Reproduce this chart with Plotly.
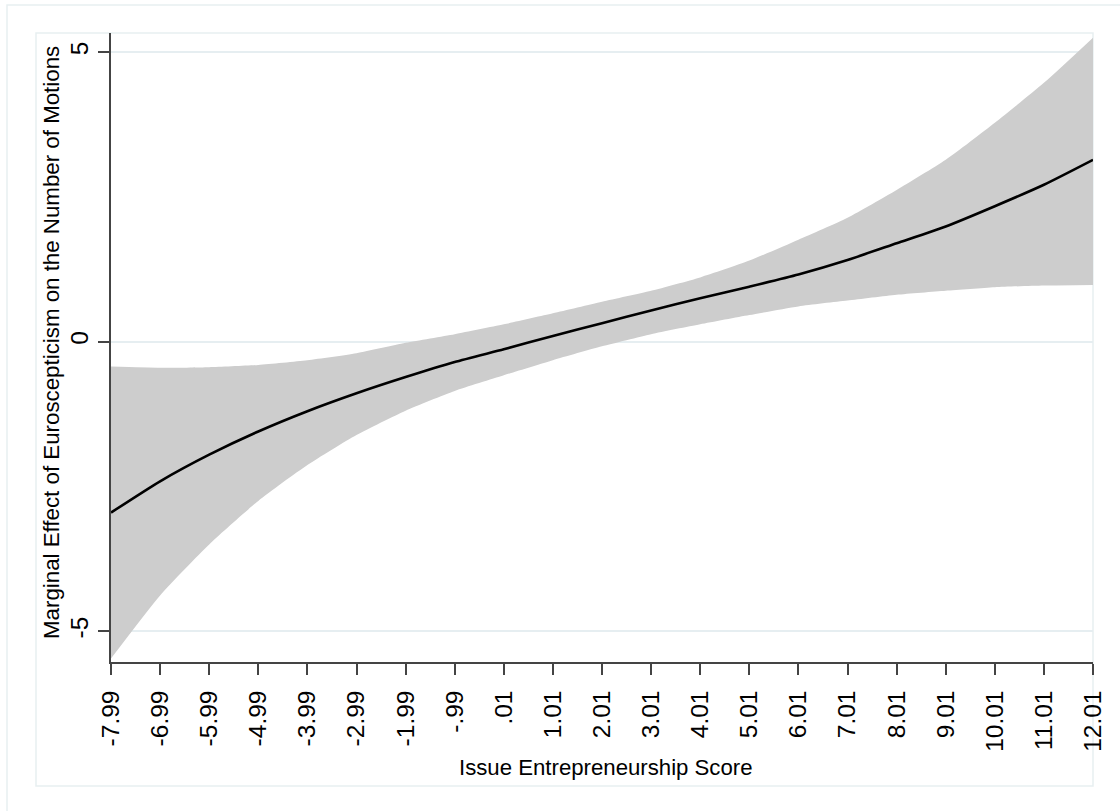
import plotly.graph_objects as go

# Data
x_vals = [-7.99, -6.99, -5.99, -4.99, -3.99, -2.99, -1.99, -0.99, 0.01, 1.01, 2.01,
          3.01, 4.01, 5.01, 6.01, 7.01, 8.01, 9.01, 10.01, 11.01, 12.01]
effect = [-2.95, -2.41, -1.95, -1.55, -1.20, -0.89, -0.61, -0.35, -0.13, 0.10, 0.32,
          0.54, 0.75, 0.95, 1.16, 1.41, 1.70, 1.99, 2.34, 2.71, 3.14]
upper = [-0.43, -0.45, -0.44, -0.40, -0.32, -0.20, -0.02, 0.13, 0.30, 0.49, 0.69,
         0.88, 1.11, 1.40, 1.76, 2.14, 2.62, 3.14, 3.78, 4.47, 5.25]
lower = [-5.47, -4.38, -3.50, -2.75, -2.13, -1.61, -1.19, -0.85, -0.58, -0.32, -0.08,
         0.13, 0.30, 0.46, 0.61, 0.71, 0.81, 0.88, 0.94, 0.97, 0.98]
x_ticktext = ["-7.99", "-6.99", "-5.99", "-4.99", "-3.99", "-2.99", "-1.99", "-.99", ".01",
              "1.01", "2.01", "3.01", "4.01", "5.01", "6.01", "7.01", "8.01", "9.01",
              "10.01", "11.01", "12.01"]
y_tickvals = [-5, 0, 5]
y_ticktext = ["-5", "0", "5"]
x_title = "Issue Entrepreneurship Score"
y_title = "Marginal Effect of Euroscepticism on the Number of Motions"

FONT = "Liberation Sans, Arial, sans-serif"
W, H = 1120, 811
L, R, T, B = 111, 27, 33, 149
pw, ph = W - L - R, H - T - B


def px(xp):
    return (xp - L) / pw


def py(yp):
    return (H - B - yp) / ph


fig = go.Figure()
fig.add_trace(go.Scatter(x=x_vals, y=upper, mode="lines", line=dict(width=0, shape="spline", smoothing=0.6),
                         showlegend=False, hoverinfo="skip"))
fig.add_trace(go.Scatter(x=x_vals, y=lower, mode="lines", line=dict(width=0, shape="spline", smoothing=0.6),
                         fill="tonexty", fillcolor="#cdcdcd", showlegend=False, hoverinfo="skip"))
fig.add_trace(go.Scatter(x=x_vals, y=effect, mode="lines",
                         line=dict(color="#000000", width=2.6, shape="spline", smoothing=0.6),
                         showlegend=False))

fig.update_layout(
    width=W, height=H,
    margin=dict(l=L, r=R, t=T, b=B, pad=0),
    paper_bgcolor="white", plot_bgcolor="white",
    font=dict(family=FONT, color="#000000"),
    xaxis=dict(
        range=[-7.99, 12.01], tickmode="array", tickvals=x_vals, ticktext=x_ticktext,
        tickangle=-90, tickfont=dict(size=24.5, family=FONT, color="#000000"),
        ticks="outside", ticklen=11, tickwidth=1.5, tickcolor="#444444",
        showline=True, linecolor="#444444", linewidth=1.5,
        showgrid=False, zeroline=False, ticklabelstandoff=6,
    ),
    yaxis=dict(
        range=[-5.53, 5.33], tickmode="array", tickvals=y_tickvals, ticktext=y_ticktext,
        tickangle=-90, tickfont=dict(size=24.5, family=FONT, color="#000000"),
        ticks="outside", ticklen=11, tickwidth=1.5, tickcolor="#444444",
        showline=True, linecolor="#444444", linewidth=1.5,
        showgrid=True, gridcolor="#e6eef1", gridwidth=1.5, zeroline=False,
        ticklabelstandoff=0,
    ),
    shapes=[
        # outer frame
        dict(type="rect", xref="paper", yref="paper",
             x0=px(7), x1=px(1135), y0=py(826), y1=py(5),
             line=dict(color="#e8eff1", width=1.5), fillcolor="rgba(0,0,0,0)", layer="below"),
        # inner plot-region frame
        dict(type="rect", xref="paper", yref="paper",
             x0=px(36), x1=px(1093), y0=py(786), y1=py(33),
             line=dict(color="#e8eff1", width=1.5), fillcolor="rgba(0,0,0,0)", layer="below"),
    ],
    annotations=[
        dict(text=y_title, xref="paper", yref="paper", x=px(51), y=py(343),
             xanchor="center", yanchor="middle", textangle=-90, showarrow=False,
             font=dict(size=22.3, family=FONT, color="#000000")),
        dict(text=x_title, xref="paper", yref="paper", x=px(606), y=py(767),
             xanchor="center", yanchor="middle", showarrow=False,
             font=dict(size=22.2, family=FONT, color="#000000")),
    ],
)

fig.write_html("out.html")
